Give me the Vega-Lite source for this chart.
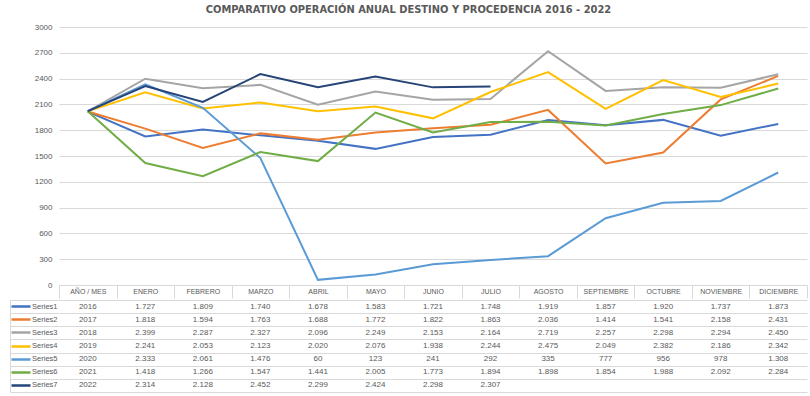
{
  "$schema": "https://vega.github.io/schema/vega-lite/v6.json",
  "padding": {"left": 9, "top": 4, "right": 2, "bottom": 4},
  "title": {"text": "COMPARATIVO OPERACIÓN ANUAL DESTINO Y PROCEDENCIA 2016 - 2022", "font": "'DejaVu Sans Condensed', 'Liberation Sans', sans-serif", "fontSize": 11, "fontWeight": "bold", "color": "#595959", "anchor": "middle", "offset": 8},
  "config": {
    "view": {"stroke": null},
    "locale": {"number": {"decimal": ",", "thousands": ".", "grouping": [3], "currency": ["$", ""]}},
    "axis": {"labelFont": "Liberation Sans", "labelColor": "#595959", "gridColor": "#d9d9d9", "domainColor": "#d9d9d9", "tickColor": "#d9d9d9"}
  },
  "data": {"values": [
    {"s":"Series1","m":"AÑO / MES","v":2016},{"s":"Series1","m":"ENERO","v":1727},{"s":"Series1","m":"FEBRERO","v":1809},{"s":"Series1","m":"MARZO","v":1740},{"s":"Series1","m":"ABRIL","v":1678},{"s":"Series1","m":"MAYO","v":1583},{"s":"Series1","m":"JUNIO","v":1721},{"s":"Series1","m":"JULIO","v":1748},{"s":"Series1","m":"AGOSTO","v":1919},{"s":"Series1","m":"SEPTIEMBRE","v":1857},{"s":"Series1","m":"OCTUBRE","v":1920},{"s":"Series1","m":"NOVIEMBRE","v":1737},{"s":"Series1","m":"DICIEMBRE","v":1873},
    {"s":"Series2","m":"AÑO / MES","v":2017},{"s":"Series2","m":"ENERO","v":1818},{"s":"Series2","m":"FEBRERO","v":1594},{"s":"Series2","m":"MARZO","v":1763},{"s":"Series2","m":"ABRIL","v":1688},{"s":"Series2","m":"MAYO","v":1772},{"s":"Series2","m":"JUNIO","v":1822},{"s":"Series2","m":"JULIO","v":1863},{"s":"Series2","m":"AGOSTO","v":2036},{"s":"Series2","m":"SEPTIEMBRE","v":1414},{"s":"Series2","m":"OCTUBRE","v":1541},{"s":"Series2","m":"NOVIEMBRE","v":2158},{"s":"Series2","m":"DICIEMBRE","v":2431},
    {"s":"Series3","m":"AÑO / MES","v":2018},{"s":"Series3","m":"ENERO","v":2399},{"s":"Series3","m":"FEBRERO","v":2287},{"s":"Series3","m":"MARZO","v":2327},{"s":"Series3","m":"ABRIL","v":2096},{"s":"Series3","m":"MAYO","v":2249},{"s":"Series3","m":"JUNIO","v":2153},{"s":"Series3","m":"JULIO","v":2164},{"s":"Series3","m":"AGOSTO","v":2719},{"s":"Series3","m":"SEPTIEMBRE","v":2257},{"s":"Series3","m":"OCTUBRE","v":2298},{"s":"Series3","m":"NOVIEMBRE","v":2294},{"s":"Series3","m":"DICIEMBRE","v":2450},
    {"s":"Series4","m":"AÑO / MES","v":2019},{"s":"Series4","m":"ENERO","v":2241},{"s":"Series4","m":"FEBRERO","v":2053},{"s":"Series4","m":"MARZO","v":2123},{"s":"Series4","m":"ABRIL","v":2020},{"s":"Series4","m":"MAYO","v":2076},{"s":"Series4","m":"JUNIO","v":1938},{"s":"Series4","m":"JULIO","v":2244},{"s":"Series4","m":"AGOSTO","v":2475},{"s":"Series4","m":"SEPTIEMBRE","v":2049},{"s":"Series4","m":"OCTUBRE","v":2382},{"s":"Series4","m":"NOVIEMBRE","v":2186},{"s":"Series4","m":"DICIEMBRE","v":2342},
    {"s":"Series5","m":"AÑO / MES","v":2020},{"s":"Series5","m":"ENERO","v":2333},{"s":"Series5","m":"FEBRERO","v":2061},{"s":"Series5","m":"MARZO","v":1476},{"s":"Series5","m":"ABRIL","v":60},{"s":"Series5","m":"MAYO","v":123},{"s":"Series5","m":"JUNIO","v":241},{"s":"Series5","m":"JULIO","v":292},{"s":"Series5","m":"AGOSTO","v":335},{"s":"Series5","m":"SEPTIEMBRE","v":777},{"s":"Series5","m":"OCTUBRE","v":956},{"s":"Series5","m":"NOVIEMBRE","v":978},{"s":"Series5","m":"DICIEMBRE","v":1308},
    {"s":"Series6","m":"AÑO / MES","v":2021},{"s":"Series6","m":"ENERO","v":1418},{"s":"Series6","m":"FEBRERO","v":1266},{"s":"Series6","m":"MARZO","v":1547},{"s":"Series6","m":"ABRIL","v":1441},{"s":"Series6","m":"MAYO","v":2005},{"s":"Series6","m":"JUNIO","v":1773},{"s":"Series6","m":"JULIO","v":1894},{"s":"Series6","m":"AGOSTO","v":1898},{"s":"Series6","m":"SEPTIEMBRE","v":1854},{"s":"Series6","m":"OCTUBRE","v":1988},{"s":"Series6","m":"NOVIEMBRE","v":2092},{"s":"Series6","m":"DICIEMBRE","v":2284},
    {"s":"Series7","m":"AÑO / MES","v":2022},{"s":"Series7","m":"ENERO","v":2314},{"s":"Series7","m":"FEBRERO","v":2128},{"s":"Series7","m":"MARZO","v":2452},{"s":"Series7","m":"ABRIL","v":2299},{"s":"Series7","m":"MAYO","v":2424},{"s":"Series7","m":"JUNIO","v":2298},{"s":"Series7","m":"JULIO","v":2307}
  ]},
  "spacing": 0,
  "vconcat": [
    {
      "width": 748,
      "height": 258,
      "mark": {"type": "line", "strokeWidth": 2},
      "encoding": {
        "x": {"field": "m", "type": "nominal", "bandPosition": 0.5,
          "scale": {"type": "band", "paddingInner": 0, "paddingOuter": 0, "domain": ["AÑO / MES","ENERO","FEBRERO","MARZO","ABRIL","MAYO","JUNIO","JULIO","AGOSTO","SEPTIEMBRE","OCTUBRE","NOVIEMBRE","DICIEMBRE"]},
          "axis": {"title": null, "orient": "bottom", "tickBand": "extent", "tickSize": 13, "domain": false, "grid": false, "labelAngle": 0, "labelPadding": -7, "labelBaseline": "middle", "labelFontSize": 7, "labelOverlap": false}},
        "y": {"field": "v", "type": "quantitative", "scale": {"domain": [0, 3000]},
          "axis": {"title": null, "format": "d", "values": [0,300,600,900,1200,1500,1800,2100,2400,2700,3000], "ticks": false, "domain": false, "labelPadding": 7, "labelFontSize": 8}},
        "color": {"field": "s", "type": "nominal", "legend": null,
          "scale": {"domain": ["Series1","Series2","Series3","Series4","Series5","Series6","Series7"], "range": ["#4472C4","#ED7D31","#A5A5A5","#FFC000","#5B9BD5","#70AD47","#264478"]}}
      }
    },
    {
      "width": 748,
      "height": 92,
      "resolve": {"axis": {"y": "independent"}},
      "layer": [
        {
          "transform": [{"filter": "datum.m != 'AÑO / MES'"}],
          "mark": {"type": "text", "font": "Liberation Sans", "fontSize": 8, "color": "#595959"},
          "encoding": {
            "x": {"field": "m", "type": "nominal",
              "scale": {"type": "band", "paddingInner": 0, "paddingOuter": 0, "domain": ["AÑO / MES","ENERO","FEBRERO","MARZO","ABRIL","MAYO","JUNIO","JULIO","AGOSTO","SEPTIEMBRE","OCTUBRE","NOVIEMBRE","DICIEMBRE"]},
              "axis": {"title": null, "grid": true, "tickBand": "extent", "labels": false, "ticks": false, "domain": false}},
            "y": {"field": "s", "type": "nominal",
              "scale": {"type": "band", "paddingInner": 0, "paddingOuter": 0, "domain": ["Series1","Series2","Series3","Series4","Series5","Series6","Series7"]},
              "axis": {"title": null, "orient": "left", "offset": 49, "tickSize": -49, "tickBand": "extent", "grid": true, "labels": false, "domain": true}},
            "text": {"field": "v", "type": "quantitative", "format": ",d"}
          }
        },
        {
          "transform": [{"filter": "datum.m == 'AÑO / MES'"}],
          "mark": {"type": "text", "font": "Liberation Sans", "fontSize": 8, "color": "#595959"},
          "encoding": {
            "x": {"field": "m", "type": "nominal", "axis": null},
            "y": {"field": "s", "type": "nominal",
              "axis": {"title": null, "orient": "left", "grid": false, "domain": false, "tickSize": 48, "tickWidth": 2.5, "tickDash": [0, 29, 19, 100],
                "tickColor": {"expr": "datum.value == 'Series1' ? '#4472C4' : datum.value == 'Series2' ? '#ED7D31' : datum.value == 'Series3' ? '#A5A5A5' : datum.value == 'Series4' ? '#FFC000' : datum.value == 'Series5' ? '#5B9BD5' : datum.value == 'Series6' ? '#70AD47' : '#264478'"},
                "labelPadding": -46, "labelFontSize": 7.5}},
            "text": {"field": "v", "type": "quantitative", "format": "d"}
          }
        }
      ]
    }
  ]
}
